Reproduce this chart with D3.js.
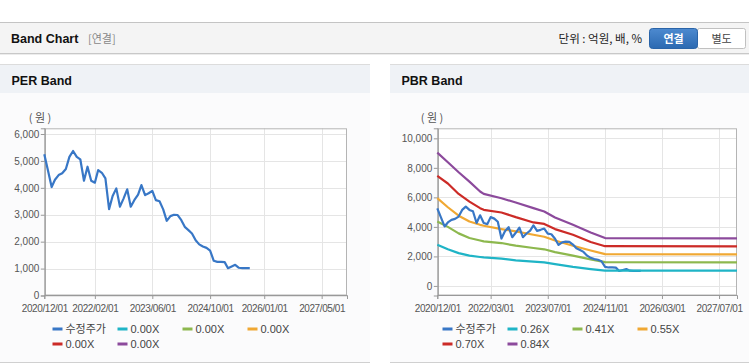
<!DOCTYPE html>
<html>
<head>
<meta charset="utf-8">
<script src="https://cdn.jsdelivr.net/npm/d3@7"></script>
<style>
  html, body { margin: 0; padding: 0; background: #fff; }
  svg { display: block; }
  text { font-family: "Liberation Sans", Arial, "Noto Sans CJK KR", sans-serif; }
  .kr { font-family: "Noto Sans CJK KR", "Liberation Sans", sans-serif; }
</style>
</head>
<body>
<div id="chart"></div>
<script>
// Band chart data
const priceStart = '2020-12-01';
const priceValues = [
  5250, 4640, 4030, 4300, 4475, 4540, 4700, 5150, 5370, 5150,
  5060, 4265, 4785, 4265, 4190, 4660, 4560, 4350, 3210, 3700,
  3980, 3300, 3600, 3945, 3300, 3550, 3750, 4100, 3730, 3800,
  3890, 3545, 3500, 3200, 2775, 2950, 3000, 2990, 2800, 2550,
  2430, 2305, 2050, 1900, 1820, 1770, 1670, 1290, 1250, 1250,
  1240, 1015, 1080, 1140, 1030, 1015, 1015, 1015
];

const bandDates = [
  '2020-12-01', '2021-03-01', '2021-06-01', '2021-09-01', '2021-12-01',
  '2022-01-01', '2022-06-01', '2022-10-01', '2023-03-01', '2023-06-01',
  '2023-09-01', '2024-02-01', '2024-07-01', '2024-11-01', '2027-12-01'
];
const band026 = [2790, 2480, 2220, 2050, 1960, 1930, 1845, 1730, 1640, 1595, 1480, 1285, 1140, 1040, 1040];
const band041 = [4365, 4000, 3560, 3245, 3080, 3015, 2905, 2725, 2570, 2480, 2290, 2050, 1800, 1610, 1595];
const band055 = [5945, 5330, 4760, 4365, 4140, 4075, 3850, 3690, 3465, 3330, 3080, 2725, 2400, 2150, 2135];
const band070 = [7450, 6940, 6230, 5715, 5270, 5155, 4975, 4660, 4300, 4200, 3850, 3465, 2980, 2690, 2680];
const band084 = [9030, 8380, 7700, 7070, 6400, 6240, 5940, 5650, 5270, 5040, 4640, 4140, 3620, 3240, 3220];

const perLegend = ['수정주가', '0.00X', '0.00X', '0.00X', '0.00X', '0.00X'];
const pbrLegend = ['수정주가', '0.26X', '0.41X', '0.55X', '0.70X', '0.84X'];
const seriesColors = ['#3877c6', '#1fb4c6', '#8db84e', '#f0a833', '#cc2b27', '#8c4a9c'];

const perXTicks = ['2020-12-01', '2022-02-01', '2023-06-01', '2024-10-01', '2026-01-01', '2027-05-01'];
const pbrXTicks = ['2020-12-01', '2022-03-01', '2023-07-01', '2024-11-01', '2026-03-01', '2027-07-01'];
const perYTicks = [0, 1000, 2000, 3000, 4000, 5000, 6000];
const pbrYTicks = [0, 2000, 4000, 6000, 8000, 10000];

const W = 749, H = 364;
const parse = d3.timeParse('%Y-%m-%d');
const fmtDate = d3.timeFormat('%Y/%m/%d');
const fmtNum = d3.format(',');

const svg = d3.select('#chart').append('svg')
    .attr('width', W)
    .attr('height', H);

const defs = svg.append('defs');
const grad = defs.append('linearGradient')
    .attr('id', 'btnBlue')
    .attr('x1', 0).attr('y1', 0).attr('x2', 0).attr('y2', 1);
grad.append('stop').attr('offset', '0%').attr('stop-color', '#4d8ad0');
grad.append('stop').attr('offset', '100%').attr('stop-color', '#2b69b1');

// Header bar
svg.append('rect')
    .attr('x', 0).attr('y', 22).attr('width', W).attr('height', 31)
    .attr('fill', '#f4f4f4');
svg.append('line')
    .attr('x1', 0).attr('x2', W).attr('y1', 22.5).attr('y2', 22.5)
    .attr('stroke', '#c4c4c4');
svg.append('line')
    .attr('x1', 0).attr('x2', W).attr('y1', 53.5).attr('y2', 53.5)
    .attr('stroke', '#c8c8c8');
svg.append('line')
    .attr('x1', 0).attr('x2', W).attr('y1', 54.5).attr('y2', 54.5)
    .attr('stroke', '#ececec');

svg.append('text')
    .attr('x', 11).attr('y', 43)
    .style('font-size', '12.5px')
    .style('font-weight', 'bold')
    .attr('fill', '#111')
    .text('Band Chart');
svg.append('text')
    .attr('class', 'kr')
    .attr('x', 88).attr('y', 43)
    .style('font-size', '11px')
    .attr('fill', '#888')
    .text('[연결]');
svg.append('text')
    .attr('class', 'kr')
    .attr('x', 642).attr('y', 43)
    .attr('text-anchor', 'end')
    .style('font-size', '11.5px')
    .attr('fill', '#222')
    .text('단위 : 억원, 배, %');

svg.append('rect')
    .attr('x', 697.5).attr('y', 28.5).attr('width', 48).attr('height', 20)
    .attr('rx', 2)
    .attr('fill', '#fff')
    .attr('stroke', '#c0c0c0');
svg.append('rect')
    .attr('x', 649.5).attr('y', 28.5).attr('width', 48).attr('height', 20)
    .attr('rx', 3)
    .attr('fill', 'url(#btnBlue)')
    .attr('stroke', '#2a64a8');
svg.append('text')
    .attr('class', 'kr')
    .attr('x', 673.5).attr('y', 43)
    .attr('text-anchor', 'middle')
    .style('font-size', '11px')
    .style('font-weight', 'bold')
    .attr('fill', '#fff')
    .text('연결');
svg.append('text')
    .attr('class', 'kr')
    .attr('x', 721.5).attr('y', 43)
    .attr('text-anchor', 'middle')
    .style('font-size', '11px')
    .attr('fill', '#444')
    .text('별도');

// price series as {date, value}
const priceData = priceValues.map((v, i) => ({
    date: d3.timeMonth.offset(parse(priceStart), i),
    value: v
}));

function bandSeries(values) {
    return values.map((v, i) => ({ date: parse(bandDates[i]), value: v }));
}

function drawPanel(opts) {
    const g = svg.append('g');
    const px = opts.panelX, pw = opts.panelW;

    // panel body + title bar
    g.append('rect')
        .attr('x', px).attr('y', 64).attr('width', pw).attr('height', 299)
        .attr('fill', '#fbfbfc');
    g.append('rect')
        .attr('x', px).attr('y', 64).attr('width', pw).attr('height', 29)
        .attr('fill', '#eff2f6');
    g.append('line')
        .attr('x1', px).attr('x2', px + pw).attr('y1', 64.5).attr('y2', 64.5)
        .attr('stroke', '#dcdcdc');
    g.append('line')
        .attr('x1', px).attr('x2', px + pw).attr('y1', 362.5).attr('y2', 362.5)
        .attr('stroke', '#d0d0d0');
    g.append('text')
        .attr('x', px + 11.5).attr('y', 85)
        .style('font-size', '12.5px')
        .style('font-weight', 'bold')
        .attr('fill', '#111')
        .text(opts.title);

    const m = opts.plot;
    const x = d3.scaleTime()
        .domain([parse('2020-12-01'), parse('2027-12-01')])
        .range([m.left, m.right]);
    const y = d3.scaleLinear()
        .domain(opts.yDomain)
        .range([m.bottom, m.top]);

    // plot background
    g.append('rect')
        .attr('x', m.left).attr('y', m.top)
        .attr('width', m.right - m.left).attr('height', m.bottom - m.top)
        .attr('fill', '#fff');

    // grid
    const xt = opts.xTicks.map(parse);
    g.append('g')
        .selectAll('line')
        .data(xt)
        .join('line')
        .attr('x1', d => Math.round(x(d)) + 0.5)
        .attr('x2', d => Math.round(x(d)) + 0.5)
        .attr('y1', m.top).attr('y2', m.bottom)
        .attr('stroke', '#e5e5e5');
    g.append('g')
        .selectAll('line')
        .data(opts.yTicks)
        .join('line')
        .attr('x1', m.left).attr('x2', m.right)
        .attr('y1', d => Math.round(y(d)) + 0.5)
        .attr('y2', d => Math.round(y(d)) + 0.5)
        .attr('stroke', '#e5e5e5');

    // frame
    g.append('rect')
        .attr('x', m.left + 0.5).attr('y', m.top + 0.5)
        .attr('width', m.right - m.left - 1).attr('height', m.bottom - m.top - 1)
        .attr('fill', 'none')
        .attr('stroke', '#b4b4b4');

    // axes
    const yAxis = d3.axisLeft(y)
        .tickValues(opts.yTicks)
        .tickSize(4)
        .tickPadding(1.5)
        .tickFormat(fmtNum);
    const ya = g.append('g')
        .attr('transform', `translate(${m.left + 0.5},0)`)
        .call(yAxis);
    ya.select('.domain').attr('stroke', '#999');
    ya.selectAll('.tick line').attr('stroke', '#999');
    ya.selectAll('.tick text')
        .attr('fill', '#555')
        .style('font-size', '10px')
        .style('font-family', '"Liberation Sans", Arial, sans-serif');

    const xAxis = d3.axisBottom(x)
        .tickValues(xt)
        .tickSize(4)
        .tickPadding(6)
        .tickFormat(fmtDate);
    const xa = g.append('g')
        .attr('transform', `translate(0,${m.bottom - 0.5})`)
        .call(xAxis);
    xa.select('.domain').attr('stroke', '#999');
    xa.selectAll('.tick line').attr('stroke', '#999');
    xa.selectAll('.tick text')
        .attr('fill', '#555')
        .style('font-size', '10px')
        .style('letter-spacing', '-0.4px')
        .style('font-family', '"Liberation Sans", Arial, sans-serif');

    // unit label
    g.append('text')
        .attr('class', 'kr')
        .attr('x', opts.unitX).attr('y', 122)
        .attr('text-anchor', 'middle')
        .style('font-size', '11px')
        .attr('fill', '#555')
        .text('( 원 )');

    const line = d3.line()
        .x(d => x(d.date))
        .y(d => y(d.value));

    const lines = g.append('g');
    opts.bands.forEach((b, i) => {
        lines.append('path')
            .datum(b)
            .attr('fill', 'none')
            .attr('stroke', seriesColors[i + 1])
            .attr('stroke-width', 2.2)
            .attr('stroke-linejoin', 'round')
            .attr('d', line);
    });
    lines.append('path')
        .datum(priceData)
        .attr('fill', 'none')
        .attr('stroke', seriesColors[0])
        .attr('stroke-width', 2.2)
        .attr('stroke-linejoin', 'round')
        .attr('d', line);
    // lowest band sits over the price tail, as in the picture
    if (opts.bands.length) lines.select('path').raise();

    // legend
    const legend = g.append('g');
    opts.legend.forEach((label, i) => {
        const col = i % 4, row = Math.floor(i / 4);
        const lx = opts.legendX + col * 65;
        const ly = 329 + row * 15;
        legend.append('rect')
            .attr('x', lx).attr('y', ly - 1.5)
            .attr('width', 10).attr('height', 3)
            .attr('fill', seriesColors[i]);
        legend.append('text')
            .attr('class', i === 0 ? 'kr' : null)
            .attr('x', lx + 13).attr('y', ly + 4)
            .style('font-size', '11px')
            .attr('fill', '#444')
            .text(label);
    });
}

drawPanel({
    title: 'PER Band',
    panelX: 0, panelW: 370,
    plot: { left: 44.3, right: 347, top: 128.3, bottom: 295.5 },
    yDomain: [0, 6212],
    yTicks: perYTicks,
    xTicks: perXTicks,
    unitX: 40,
    bands: [],
    legend: perLegend,
    legendX: 52.5
});

drawPanel({
    title: 'PBR Band',
    panelX: 390, panelW: 359,
    plot: { left: 437.3, right: 737, top: 128.3, bottom: 295.5 },
    yDomain: [-650, 10680],
    yTicks: pbrYTicks,
    xTicks: pbrXTicks,
    unitX: 432,
    bands: [band026, band041, band055, band070, band084].map(bandSeries),
    legend: pbrLegend,
    legendX: 442.5
});
</script>
</body>
</html>
